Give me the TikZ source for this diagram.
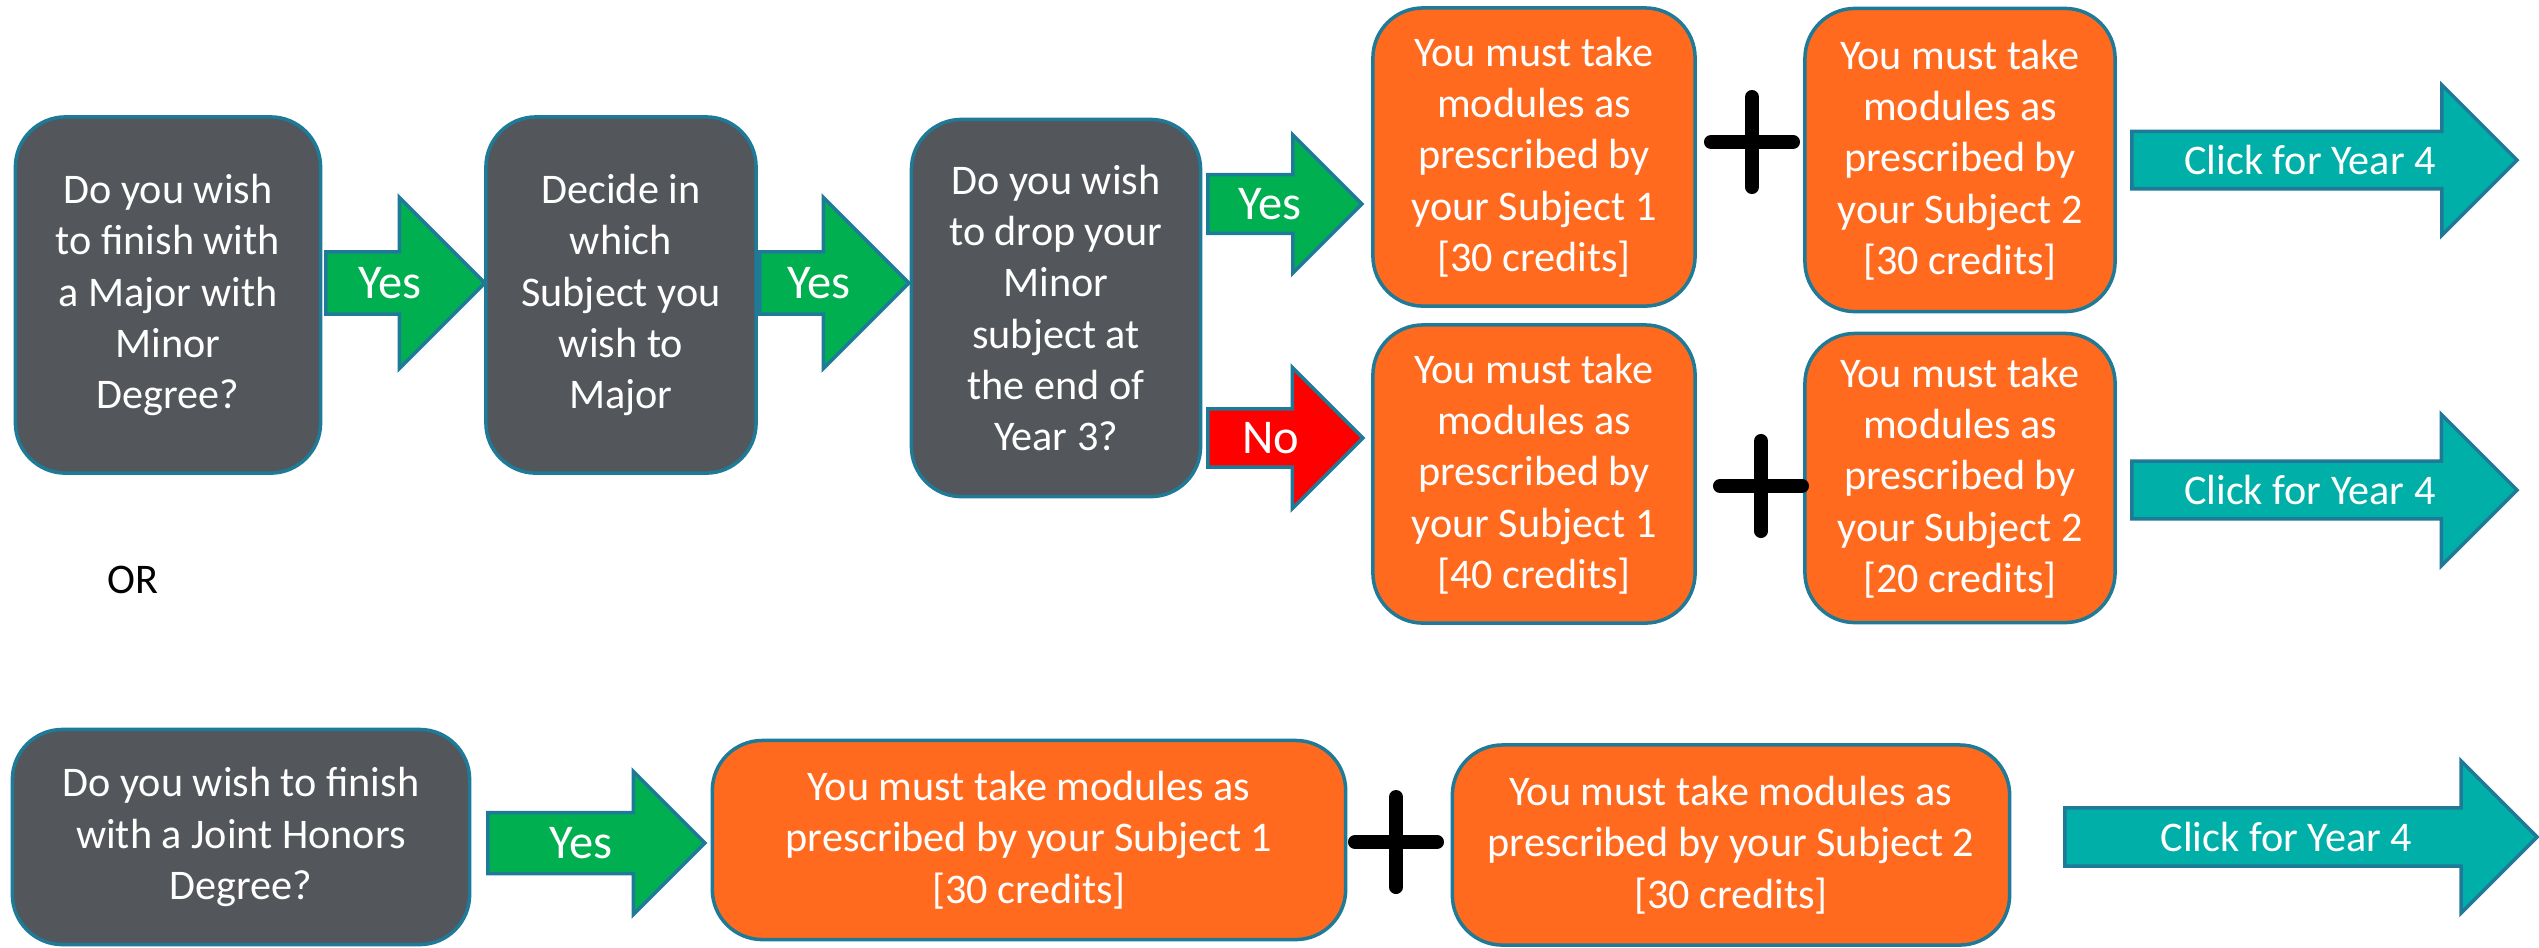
\documentclass[tikz,border=0pt]{standalone}
\usepackage{fontspec}
\setmainfont{Carlito}
\usepackage{xcolor}
\usepackage{tikz}
\usetikzlibrary{shapes.arrows}

\definecolor{slate}{RGB}{83,86,90}
\definecolor{tangerine}{RGB}{255,106,31}
\definecolor{rim}{RGB}{31,122,152}
\definecolor{gogreen}{RGB}{0,176,80}
\definecolor{stopred}{RGB}{255,0,0}
\definecolor{lagoon}{RGB}{0,176,168}

\begin{document}
\begin{tikzpicture}[
  x=0.01cm, y=-0.01cm,
  card/.style={
    rectangle,
    rounded corners=0.5cm,
    draw=rim,
    line width=1pt,
    fill=#1,
    text=white,
    align=center,
    inner sep=0pt,
    font=\fontsize{12}{14.6}\selectfont
  },
  blockarrow/.style={
    single arrow,
    single arrow tip angle=90,
    single arrow head extend=#1,
    draw=rim,
    line width=1pt,
    text=white,
    anchor=tail,
    inner sep=2pt,
    font=\fontsize{12}{14.6}\selectfont
  },
  answer/.style={font=\fontsize{13.8}{16}\selectfont},
  plussign/.style={line width=0.14cm, line cap=round}
]
\useasboundingbox (0,0) rectangle (2539,947);

% Major with Minor route
\node[card=slate, minimum width=3.05cm, minimum height=3.56cm] (askmajor) at (168,295)
{Do you wish\\to finish with\\a Major with\\Minor\\Degree?};
\node[card=slate, minimum width=2.70cm, minimum height=3.56cm] (decide) at (621,295)
{Decide in\\which\\Subject you\\wish to\\Major};
\node[card=slate, minimum width=2.89cm, minimum height=3.77cm] (askdrop) at (1056,308)
{Do you wish\\to drop your\\Minor\\subject at\\the end of\\Year 3?};

\node[blockarrow=0.43cm, answer, fill=gogreen, minimum height=1.59cm, minimum width=1.71cm] (yesA) at (324,283) {Yes};
\node[blockarrow=0.43cm, answer, fill=gogreen, minimum height=1.49cm, minimum width=1.71cm] (yesB) at (758,283) {Yes};
\node[blockarrow=0.33cm, answer, fill=gogreen, minimum height=1.54cm, minimum width=1.38cm] (yesC) at (1206,204) {Yes};
\node[blockarrow=0.35cm, answer, fill=stopred, minimum height=1.55cm, minimum width=1.41cm] (noC) at (1206,438) {No};

% modules, dropping the Minor
\node[card=tangerine, minimum width=3.22cm, minimum height=2.98cm] (dropsubA) at (1534,157)
{You must take\\modules as\\prescribed by\\your Subject 1\\{[30 credits]}};
\node[card=tangerine, minimum width=3.10cm, minimum height=3.03cm] (dropsubB) at (1960,160)
{You must take\\modules as\\prescribed by\\your Subject 2\\{[30 credits]}};

% modules, keeping the Minor
\node[card=tangerine, minimum width=3.22cm, minimum height=2.98cm] (keepsubA) at (1534,474)
{You must take\\modules as\\prescribed by\\your Subject 1\\{[40 credits]}};
\node[card=tangerine, minimum width=3.10cm, minimum height=2.89cm] (keepsubB) at (1960,478)
{You must take\\modules as\\prescribed by\\your Subject 2\\{[20 credits]}};

\node[blockarrow=0.38cm, fill=lagoon, minimum height=3.85cm, minimum width=1.50cm] (nextA) at (2130,160) {Click for Year 4};
\node[blockarrow=0.38cm, fill=lagoon, minimum height=3.85cm, minimum width=1.51cm] (nextB) at (2130,490) {Click for Year 4};

\node[font=\fontsize{12}{14.6}\selectfont] (or) at (133,580) {OR};

% Joint Honors route
\node[card=slate, minimum width=4.57cm, minimum height=2.15cm] (askjoint) at (241,837)
{Do you wish to finish\\with a Joint Honors\\Degree?};
\node[blockarrow=0.33cm, answer, fill=gogreen, minimum height=2.17cm, minimum width=1.43cm] (yesJ) at (486,843) {Yes};
\node[card=tangerine, minimum width=6.33cm, minimum height=1.99cm] (jointA) at (1029,840)
{You must take modules as\\prescribed by your Subject 1\\{[30 credits]}};
\node[card=tangerine, minimum width=5.57cm, minimum height=2.00cm] (jointB) at (1731,845)
{You must take modules as\\prescribed by your Subject 2\\{[30 credits]}};
\node[blockarrow=0.38cm, fill=lagoon, minimum height=4.72cm, minimum width=1.52cm] (nextJ) at (2063,837) {Click for Year 4};

% plus signs
\coordinate (plusA) at (1752,142);
\coordinate (plusB) at (1761,486);
\coordinate (plusJ) at (1396,842);
\foreach \p in {plusA,plusB,plusJ} {
  \draw[plussign] ([xshift=-0.41cm]\p) -- ([xshift=0.41cm]\p);
  \draw[plussign] ([yshift=-0.45cm]\p) -- ([yshift=0.45cm]\p);
}

\end{tikzpicture}
\end{document}
